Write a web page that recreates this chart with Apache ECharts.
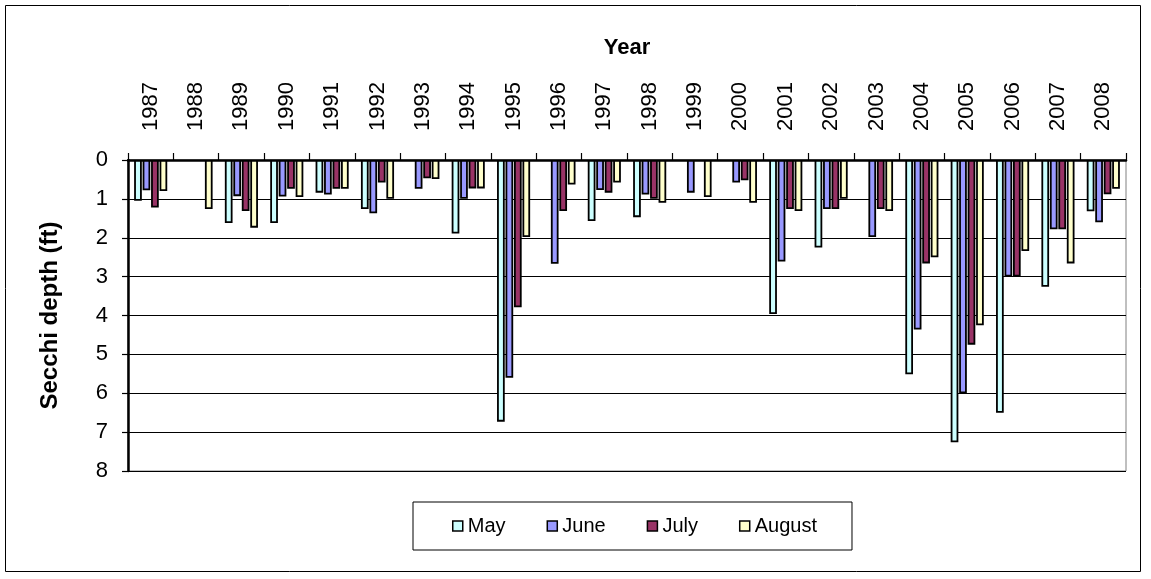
<!DOCTYPE html>
<html>
<head>
<meta charset="utf-8">
<script src="https://cdn.jsdelivr.net/npm/echarts@6/dist/echarts.min.js"></script>
<style>
  html, body { margin: 0; padding: 0; background: #fff; }
  #chart { width: 1151px; height: 579px; }
</style>
</head>
<body>
<div id="chart"></div>
<script>
// Secchi depth readings (ft) by month, 1987-2008; null = no reading
const years = ['1987','1988','1989','1990','1991','1992','1993','1994','1995','1996','1997',
               '1998','1999','2000','2001','2002','2003','2004','2005','2006','2007','2008'];
const may    = [1.05, null, 1.62, 1.62, 0.84, 1.26, null, 1.89, 6.73, null, 1.57,
                1.47, null, null, 3.96, 2.25, null, 5.51, 7.26, 6.50, 3.26, 1.32];
const june   = [0.78, null, 0.93, 0.94, 0.89, 1.37, 0.74, 1.00, 5.60, 2.67, 0.77,
                0.89, 0.84, 0.58, 2.61, 1.26, 1.98, 4.36, 6.00, 3.00, 1.78, 1.60];
const july   = [1.22, null, 1.31, 0.74, 0.74, 0.58, 0.47, 0.73, 3.79, 1.31, 0.84,
                1.00, null, 0.52, 1.26, 1.26, 1.26, 2.66, 4.75, 3.00, 1.78, 0.88];
const august = [0.80, 1.26, 1.74, 0.95, 0.74, 1.00, 0.49, 0.73, 1.98, 0.63, 0.58,
                1.10, 0.95, 1.10, 1.31, 1.00, 1.31, 2.50, 4.25, 2.34, 2.66, 0.74];
const depthTicks = [0, 1, 2, 3, 4, 5, 6, 7, 8];

const seriesDefs = [
  { name: 'May',    data: may,    color: '#CCFFFF' },
  { name: 'June',   data: june,   color: '#9999FF' },
  { name: 'July',   data: july,   color: '#993366' },
  { name: 'August', data: august, color: '#FFFFCC' }
];

const FONT = '"Liberation Sans", Arial, sans-serif';
const chart = echarts.init(document.getElementById('chart'), null, { renderer: 'canvas' });

chart.setOption({
  animation: false,
  backgroundColor: '#ffffff',
  textStyle: { fontFamily: FONT, color: '#000' },
  graphic: [{
    type: 'rect',
    shape: { x: 5.5, y: 5.5, width: 1135, height: 566 },
    style: { fill: 'none', stroke: '#000', lineWidth: 1 },
    silent: true
  }],
  grid: {
    left: 128, right: 25, top: 160, bottom: 108,
    show: true, borderColor: '#808080', borderWidth: 1
  },
  legend: {
    left: 413, top: 502,
    padding: [14, 35, 14, 39],
    itemGap: 41,
    itemWidth: 10, itemHeight: 10,
    borderColor: '#000', borderWidth: 1,
    icon: 'rect',
    itemStyle: { borderColor: '#000', borderWidth: 1.5 },
    textStyle: { fontFamily: FONT, fontSize: 20, color: '#000', padding: [0, 0, 0, 0] },
    data: seriesDefs.map(s => s.name)
  },
  xAxis: {
    type: 'category',
    position: 'top',
    data: years,
    name: 'Year',
    nameLocation: 'middle',
    nameGap: 101,
    nameTextStyle: { fontFamily: FONT, fontSize: 22, fontWeight: 'bold', color: '#000' },
    axisLine: { show: true, lineStyle: { color: '#000', width: 2.5 } },
    axisTick: { show: true, length: 7, lineStyle: { color: '#000', width: 1.2 } },
    axisLabel: { rotate: 90, margin: 29, fontSize: 22, color: '#000', fontFamily: FONT, interval: 0 },
    splitLine: { show: false }
  },
  yAxis: {
    type: 'value',
    inverse: true,
    min: depthTicks[0],
    max: depthTicks[depthTicks.length - 1],
    interval: 1,
    name: 'Secchi depth (ft)',
    nameLocation: 'middle',
    nameGap: 66,
    nameTextStyle: { fontFamily: FONT, fontSize: 24, fontWeight: 'bold', color: '#000' },
    axisLine: { show: true, lineStyle: { color: '#000', width: 2.5 } },
    axisTick: { show: true, length: 6, lineStyle: { color: '#000', width: 1.2 } },
    axisLabel: { margin: 20, fontSize: 22, color: '#000', fontFamily: FONT },
    splitLine: { show: true, lineStyle: { color: '#000', width: 1.2 } }
  },
  series: seriesDefs.map(s => ({
    type: 'bar',
    name: s.name,
    data: s.data,
    barGap: '10%',
    barCategoryGap: '27%',
    itemStyle: { color: s.color, borderColor: '#000', borderWidth: 1.8 }
  }))
});
</script>
</body>
</html>
